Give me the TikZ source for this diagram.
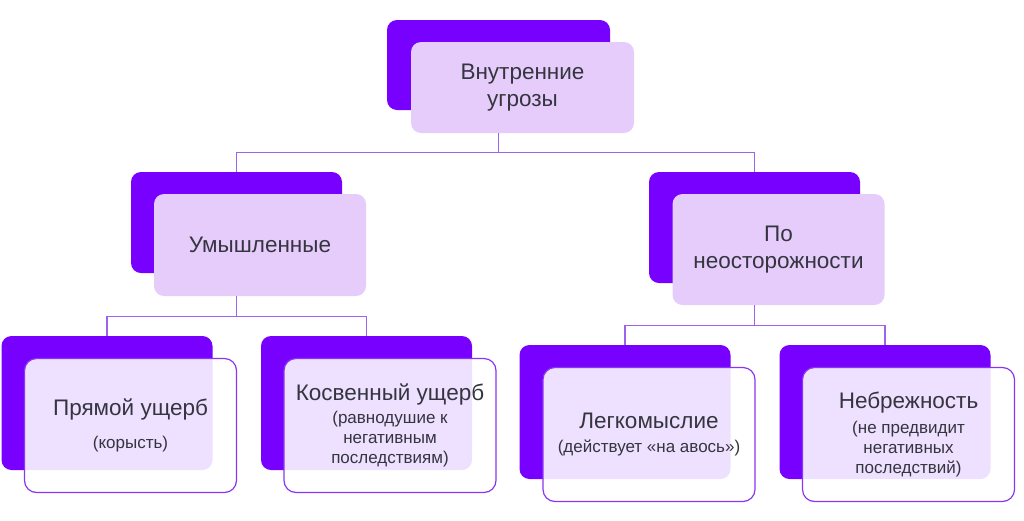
\documentclass[tikz,border=0pt]{standalone}
\usepackage{fontspec}
\setmainfont{Liberation Sans}
\usepackage{xcolor}
\definecolor{boxViolet}{HTML}{7700FF}
\definecolor{boxLilac}{HTML}{E5CCFB}
\definecolor{borderViolet}{HTML}{8A35F0}
\definecolor{lineViolet}{HTML}{9D63EA}
\definecolor{textDark}{HTML}{35353F}
\usepackage{tikz}
\usetikzlibrary{positioning,calc}
\newcommand{\subText}{\fontsize{17}{20}\selectfont}
\tikzset{%
  backBox/.style={%
    rectangle,
    rounded corners=10pt,
    fill=boxViolet,
    minimum width=211pt,
    inner sep=0pt
  },
  frontBox/.style={%
    rectangle,
    rounded corners=10pt,
    fill=boxLilac,
    minimum width=212pt,
    inner sep=0pt,
    align=center,
    text=textDark,
    font=\fontsize{22.5}{27}\selectfont
  },
  leafBox/.style={%
    rectangle,
    rounded corners=12pt,
    draw=borderViolet,
    line width=1.2pt,
    fill=white,
    fill opacity=0.88,
    text opacity=1,
    minimum width=212pt,
    minimum height=134pt,
    inner sep=0pt,
    align=center,
    text=textDark,
    font=\fontsize{22.5}{27}\selectfont
  },
  treeLine/.style={%
    line width=1.4pt,
    color=lineViolet
  }
}

\begin{document}
\begin{tikzpicture}[x=1pt,y=-1pt]
  \useasboundingbox (0,0) rectangle (1024,520);

  % top level
  \node[backBox, minimum width=223pt, minimum height=90pt] (topBack) at (498.5,65) {};
  \node[frontBox, minimum width=223pt, minimum height=91pt] (topFront) at (522.5,87.5) {Внутренние\\угрозы};

  % second level
  \node[backBox, minimum height=101pt] (leftBack) at (236.5,222.5) {};
  \node[frontBox, minimum height=102pt] (leftFront) at (260,245) {Умышленные};
  \node[backBox, minimum height=111pt] (rightBack) at (754.5,227.5) {};
  \node[frontBox, minimum height=111pt] (rightFront) at (778.5,249.5) {По\\неосторожности};

  % leaves
  \node[backBox, minimum height=134pt] (directBack) at (107,403) {};
  \node[leafBox] (directFront) at (130.5,425.5) {Прямой ущерб\\[6pt]{\subText (корысть)}};
  \node[backBox, minimum height=134pt] (indirectBack) at (366.5,403) {};
  \node[leafBox] (indirectFront) at (390,425.5) {Косвенный ущерб\\[-4pt]{\subText (равнодушие к}\\[-7pt]{\subText негативным}\\[-7pt]{\subText последствиям)}};
  \node[backBox, minimum height=134pt] (rashBack) at (625,412) {};
  \node[leafBox] (rashFront) at (649,434.5) {Легкомыслие\\[-3pt]{\subText (действует «на авось»)}};
  \node[backBox, minimum height=134pt] (carelessBack) at (885,412) {};
  \node[leafBox] (carelessFront) at (908.5,434.5) {Небрежность\\[-2pt]{\subText (не предвидит}\\[-7pt]{\subText негативных}\\[-7pt]{\subText последствий)}};

  % connectors
  \draw[treeLine] (topBack |- topFront.south) -- ++(0,19) -| (leftBack.north);
  \draw[treeLine] (topBack |- topFront.south) -- ++(0,19) -| (rightBack.north);
  \draw[treeLine] (leftBack |- leftFront.south) -- ++(0,20) -| (directBack.north);
  \draw[treeLine] (leftBack |- leftFront.south) -- ++(0,20) -| (indirectBack.north);
  \draw[treeLine] (rightBack |- rightFront.south) -- ++(0,20) -| (rashBack.north);
  \draw[treeLine] (rightBack |- rightFront.south) -- ++(0,20) -| (carelessBack.north);
\end{tikzpicture}
\end{document}
